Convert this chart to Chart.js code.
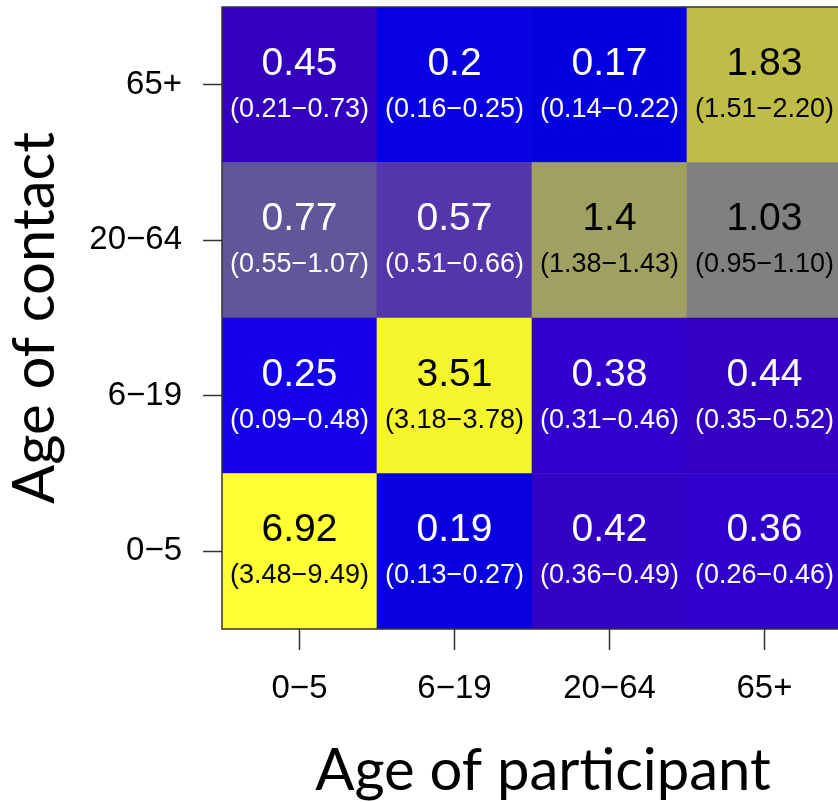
<!DOCTYPE html>
<html>
<head>
<meta charset="utf-8">
<script src="https://cdn.jsdelivr.net/npm/chart.js@4"></script>
<style>
  html, body { margin: 0; padding: 0; background: #fff; overflow: hidden; }
  #wrap { width: 850px; height: 802px; }
</style>
</head>
<body>
<div id="wrap"><canvas id="c" width="850" height="802"></canvas></div>
<script>
// Age groups (participant on x, contact on y, bottom to top)
const participantAges = ['0\u22125', '6\u221219', '20\u221264', '65+'];
const contactAges = ['0\u22125', '6\u221219', '20\u221264', '65+'];

// Mean contacts per contact-age row, one entry per participant age
const contacts0to5   = [6.92, 0.19, 0.42, 0.36];
const contacts6to19  = [0.25, 3.51, 0.38, 0.44];
const contacts20to64 = [0.77, 0.57, 1.4, 1.03];
const contacts65plus = [0.45, 0.2, 0.17, 1.83];

// 95% interval bounds
const lower0to5   = [3.48, 0.13, 0.36, 0.26];
const upper0to5   = [9.49, 0.27, 0.49, 0.46];
const lower6to19  = [0.09, 3.18, 0.31, 0.35];
const upper6to19  = [0.48, 3.78, 0.46, 0.52];
const lower20to64 = [0.55, 0.51, 1.38, 0.95];
const upper20to64 = [1.07, 0.66, 1.43, 1.10];
const lower65plus = [0.21, 0.16, 0.14, 1.51];
const upper65plus = [0.73, 0.25, 0.22, 2.20];

// Fill colours of the heat map cells
const colors0to5   = ['#ffff33', '#0900e2', '#3300c6', '#3000cc'];
const colors6to19  = ['#1500ec', '#f5f52b', '#3100cc', '#3400c2'];
const colors20to64 = ['#625599', '#5535aa', '#a0a060', '#808080'];
const colors65plus = ['#3400c0', '#0a00e4', '#0500df', '#bdbd48'];

const xTitle = 'Age of participant';
const yTitle = 'Age of contact';

const rows = [
  { values: contacts0to5,   lo: lower0to5,   hi: upper0to5,   colors: colors0to5 },
  { values: contacts6to19,  lo: lower6to19,  hi: upper6to19,  colors: colors6to19 },
  { values: contacts20to64, lo: lower20to64, hi: upper20to64, colors: colors20to64 },
  { values: contacts65plus, lo: lower65plus, hi: upper65plus, colors: colors65plus }
];

// Each contact-age row is a dataset of floating bars spanning one row band
const datasets = rows.map((row, r) => ({
  label: contactAges[r],
  data: row.values.map(() => [r - 0.5, r + 0.5]),
  backgroundColor: row.colors,
  borderWidth: 0,
  grouped: false,
  barPercentage: 1,
  categoryPercentage: 1
}));

const fmt = v => String(v);
const fmtCI = v => v.toFixed(2);

const cellText = {
  id: 'cellText',
  afterDatasetsDraw(chart) {
    const ctx = chart.ctx;
    const xs = chart.scales.x, ys = chart.scales.y;
    ctx.save();
    ctx.textAlign = 'center';
    ctx.textBaseline = 'alphabetic';
    rows.forEach((row, r) => {
      row.values.forEach((v, c) => {
        const x = xs.getPixelForValue(c);
        const y = ys.getPixelForValue(r);
        ctx.fillStyle = v > 1 ? '#000000' : '#ffffff';
        ctx.font = '39px "Liberation Sans", Arial, sans-serif';
        ctx.fillText(fmt(v), x, y - 10);
        ctx.font = '27px "Liberation Sans", Arial, sans-serif';
        ctx.fillText('(' + fmtCI(row.lo[c]) + '\u2212' + fmtCI(row.hi[c]) + ')', x, y + 32);
      });
    });
    ctx.restore();
  }
};

// Plot frame plus the participant-age caption under the x axis
const frame = {
  id: 'frame',
  afterDraw(chart) {
    const a = chart.chartArea;
    const ctx = chart.ctx;
    ctx.save();
    ctx.strokeStyle = '#333333';
    ctx.lineWidth = 1.5;
    ctx.strokeRect(a.left, a.top, a.right - a.left, a.bottom - a.top);
    ctx.fillStyle = '#000';
    ctx.font = '58px Lato, "Open Sans", sans-serif';
    ctx.textAlign = 'center';
    ctx.textBaseline = 'alphabetic';
    ctx.fillText(xTitle, (a.left + a.right) / 2 + 11, chart.height - 12);
    ctx.restore();
  }
};

new Chart(document.getElementById('c'), {
  type: 'bar',
  data: { labels: participantAges, datasets },
  options: {
    responsive: false,
    animation: false,
    devicePixelRatio: 1,
    layout: { padding: { top: 7, right: 8, left: 0, bottom: 0 } },
    plugins: { legend: { display: false }, tooltip: { enabled: false } },
    scales: {
      x: {
        type: 'category',
        offset: true,
        afterFit(scale) {
          scale.height = 173;
          scale.paddingLeft = 0;
          scale.paddingRight = 0;
        },
        grid: { offset: false, drawOnChartArea: false, drawTicks: true, tickLength: 21, color: '#333333', tickWidth: 1.5 },
        border: { display: false },
        ticks: { color: '#000', padding: 19, font: { family: '"Liberation Sans", Arial, sans-serif', size: 33 } },
        title: { display: false }
      },
      y: {
        type: 'linear',
        min: -0.5,
        max: 3.5,
        afterFit(scale) {
          scale.width = 222;
          scale.paddingTop = 0;
          scale.paddingBottom = 0;
        },
        afterBuildTicks(scale) { scale.ticks = contactAges.map((_, i) => ({ value: i })); },
        grid: { drawOnChartArea: false, drawTicks: true, tickLength: 19, color: '#333333', tickWidth: 1.5 },
        border: { display: false },
        ticks: {
          color: '#000',
          padding: 21,
          font: { family: '"Liberation Sans", Arial, sans-serif', size: 33 },
          callback: v => contactAges[v]
        },
        title: {
          display: true,
          text: yTitle,
          color: '#000',
          padding: { top: 0, bottom: 0 },
          font: { family: 'Lato, "Open Sans", sans-serif', size: 58 }
        }
      }
    }
  },
  plugins: [cellText, frame]
});
</script>
</body>
</html>
